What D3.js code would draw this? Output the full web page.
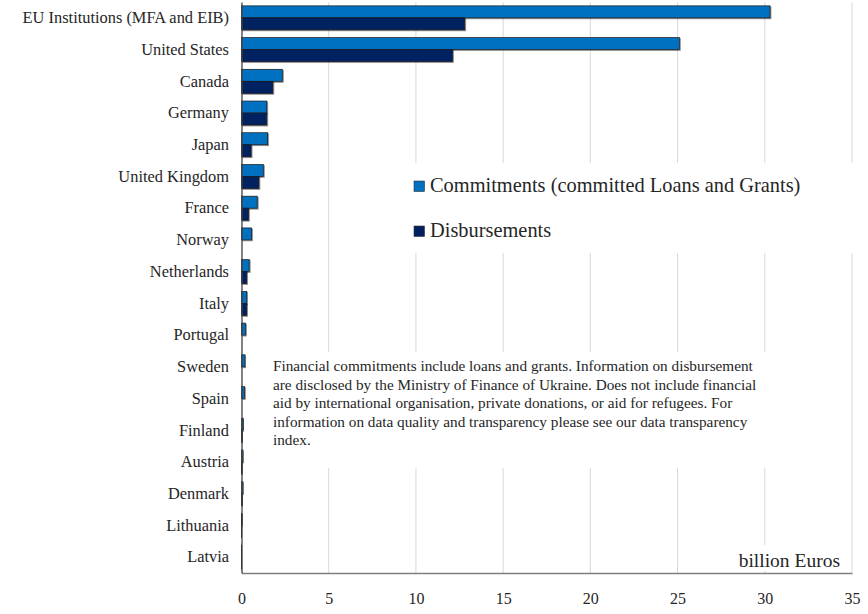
<!DOCTYPE html>
<html>
<head>
<meta charset="utf-8">
<script src="https://cdn.jsdelivr.net/npm/d3@7"></script>
<style>
  body { margin: 0; background: #fff; }
  text { font-family: 'Liberation Serif', 'Times New Roman', serif; fill: #262626; }
</style>
</head>
<body>
<div id="main"></div>
<script>
// Data (billion Euros)
var countries = ['EU Institutions (MFA and EIB)', 'United States', 'Canada', 'Germany', 'Japan',
  'United Kingdom', 'France', 'Norway', 'Netherlands', 'Italy', 'Portugal', 'Sweden', 'Spain',
  'Finland', 'Austria', 'Denmark', 'Lithuania', 'Latvia'];
var commitments = [30.3, 25.1, 2.34, 1.45, 1.5, 1.25, 0.9, 0.58, 0.44, 0.3, 0.23, 0.2, 0.17,
  0.1, 0.08, 0.08, 0.03, 0.02];
var disbursements = [12.8, 12.1, 1.8, 1.45, 0.55, 1.0, 0.4, 0, 0.3, 0.3, 0, 0, 0,
  0.05, 0.03, 0.06, 0.01, 0.01];
var seriesNames = ['Commitments (committed Loans and Grants)', 'Disbursements'];
var xTicks = [0, 5, 10, 15, 20, 25, 30, 35];
var noteLines = [
  'Financial commitments include loans and grants. Information on disbursement',
  'are disclosed by the Ministry of Finance of Ukraine. Does not include financial',
  'aid by international organisation, private donations, or aid for refugees. For',
  'information on data quality and transparency please see our data transparency',
  'index.'
];

var width = 868, height = 614;
var margin = { top: 2, right: 16, bottom: 41, left: 241.5 };

var svg = d3.select('#main').append('svg').attr('width', width).attr('height', height);

// drop shadow like the office chart
var defs = svg.append('defs');
defs.append('filter').attr('id', 'shadow')
  .attr('x', '-10%').attr('y', '-30%').attr('width', '130%').attr('height', '180%')
  .append('feDropShadow')
  .attr('dx', 1).attr('dy', 1).attr('stdDeviation', 0.7)
  .attr('flood-color', '#000').attr('flood-opacity', 0.45);

var colors = d3.scaleOrdinal().domain(seriesNames).range(['#0070C0', '#002060']);

var x = d3.scaleLinear().domain([0, 35]).range([margin.left, width - margin.right]);
var y = d3.scaleBand().domain(countries)
  .range([margin.top, height - margin.bottom])
  .paddingInner(0.243).paddingOuter(0.1215);
var ySub = d3.scaleBand().domain(seriesNames).range([0, y.bandwidth()]);

// Gridlines
svg.append('g')
  .selectAll('line')
  .data(xTicks.slice(1))
  .enter()
  .append('line')
  .attr('x1', (d) => x(d)).attr('x2', (d) => x(d))
  .attr('y1', margin.top).attr('y2', height - margin.bottom)
  .attr('stroke', '#d9d9d9').attr('stroke-width', 1);

// Bars
var rows = countries.map((c, i) => ({ country: c, values: [commitments[i], disbursements[i]] }));

svg.append('g')
  .selectAll('g')
  .data(rows)
  .enter()
  .append('g')
  .attr('transform', (d) => 'translate(0,' + y(d.country) + ')')
  .selectAll('rect')
  .data((d) => d.values.map((v, j) => ({ series: seriesNames[j], value: v })).filter((e) => e.value > 0))
  .enter()
  .append('rect')
  .attr('x', x(0))
  .attr('y', (d) => ySub(d.series))
  .attr('width', (d) => x(d.value) - x(0))
  .attr('height', ySub.bandwidth())
  .attr('fill', (d) => colors(d.series))
  .attr('stroke', '#1a1a1a')
  .attr('stroke-width', 0.7)
  .attr('filter', 'url(#shadow)');

// Axes
svg.append('g')
  .attr('transform', 'translate(0,' + (height - margin.bottom) + ')')
  .call(d3.axisBottom(x).tickValues(xTicks).tickSize(0).tickPadding(20))
  .call((g) => g.select('.domain').attr('stroke', '#7f7f7f').attr('stroke-width', 1.3))
  .selectAll('text')
  .attr('font-size', '16px')
  .attr('fill', '#262626');

svg.append('g')
  .attr('transform', 'translate(' + margin.left + ',0)')
  .call(d3.axisLeft(y).tickSize(0).tickPadding(12.5))
  .call((g) => g.select('.domain').attr('stroke', '#404040').attr('stroke-width', 1.3))
  .selectAll('text')
  .attr('font-size', '16.4px')
  .attr('fill', '#262626');

// Legend
var legend = svg.append('g').attr('id', 'legend');
legend.append('rect')
  .attr('x', 405).attr('y', 163).attr('width', 455).attr('height', 90)
  .attr('fill', '#fff');
var item = legend.selectAll('g')
  .data(seriesNames)
  .enter()
  .append('g')
  .attr('transform', (d, i) => 'translate(414,' + (181 + i * 45) + ')');
item.append('rect')
  .attr('width', 10.5).attr('height', 10.5)
  .attr('fill', (d) => colors(d))
  .attr('stroke', '#333').attr('stroke-width', 0.6);
item.append('text')
  .attr('x', 16).attr('y', 11)
  .attr('font-size', '20.4px')
  .text((d) => d);

// Note box
var note = svg.append('g');
note.append('rect')
  .attr('x', 266).attr('y', 352).attr('width', 524).attr('height', 116)
  .attr('fill', '#fff');
note.selectAll('text')
  .data(noteLines)
  .enter()
  .append('text')
  .attr('x', 273)
  .attr('y', (d, i) => 371 + i * 18.6)
  .attr('font-size', '15.25px')
  .text((d) => d);

// Unit label
svg.append('rect')
  .attr('x', 730).attr('y', 545).attr('width', 119).attr('height', 26)
  .attr('fill', '#fff');
svg.append('text')
  .attr('x', 840).attr('y', 567)
  .attr('text-anchor', 'end')
  .attr('font-size', '19.5px')
  .text('billion Euros');
</script>
</body>
</html>
